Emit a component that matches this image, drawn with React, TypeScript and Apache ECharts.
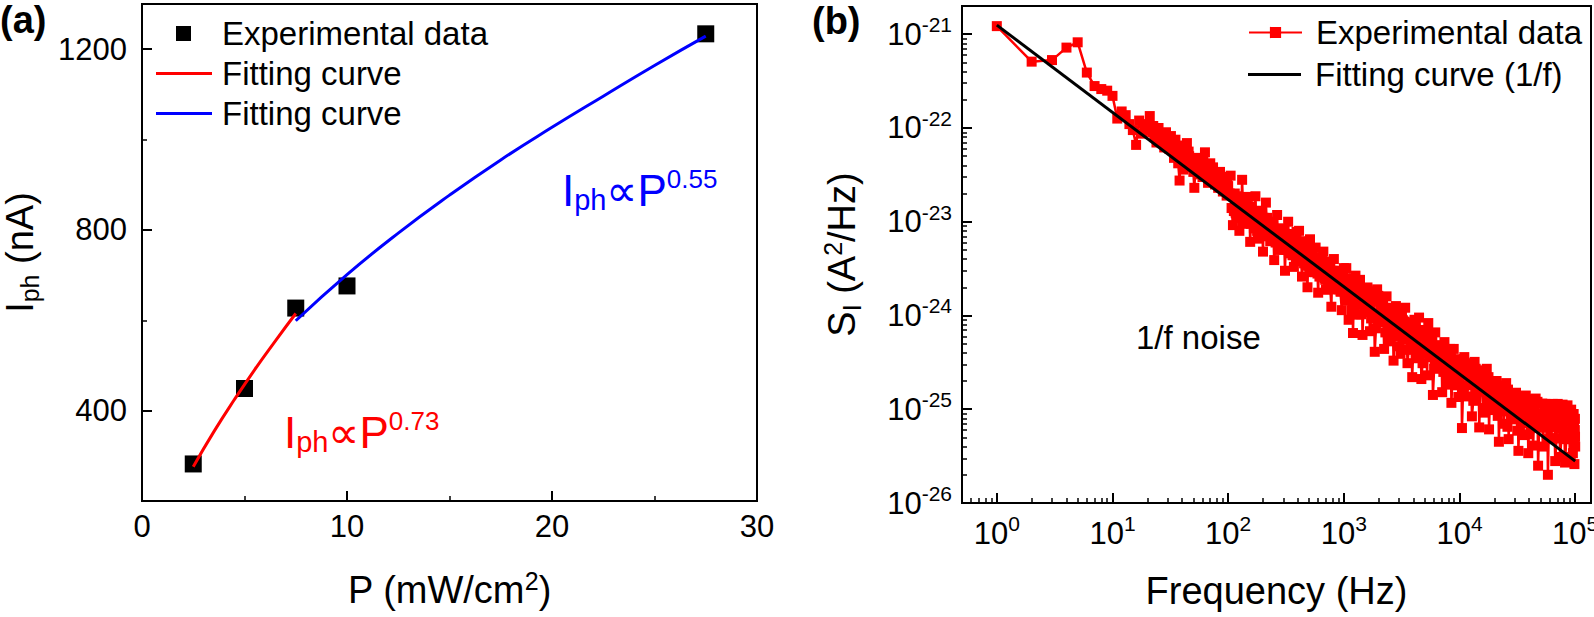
import React, { useEffect, useRef } from "react";
import * as echarts from "echarts";

const FONT = "'Liberation Sans', Arial, Helvetica, sans-serif";

// ---------------- Panel (a) ----------------
const powerP = [2.5, 5, 7.5, 10, 27.5];
const photocurrent = [282, 449, 627, 676, 1234];
const fitLowP = [2.5, 3.5, 4.5, 5.5, 6.5, 7.5];
const fitLowI = [276, 353, 424, 491, 554, 615];
const fitHighP = [7.5, 10, 12.5, 15, 17.5, 20, 22.5, 25, 27.5];
const fitHighI = [599, 701, 793, 877, 955, 1027, 1096, 1164, 1229];
const yTicksA = [400, 800, 1200];
const yMinorTicksA = [600, 1000];

// ---------------- Panel (b): noise spectrum, S_I in A^2/Hz ----------------
const freqDec0 = [1, 2, 3, 4, 5, 6, 7, 8, 9, 10];
const psdDec0 = [1.22e-21, 5.1e-22, 5.3e-22, 7.2e-22, 8.2e-22, 3.9e-22, 2.8e-22, 2.6e-22, 2.5e-22, 2.2e-22];

const freqDec1 = [
  11, 12, 13, 14, 15, 16, 17, 18, 19, 20, 21, 22, 23, 24, 25, 26, 27, 28, 29, 30,
  31, 32, 33, 34, 35, 36, 37, 38, 39, 40, 41, 42, 43, 44, 45, 46, 47, 49, 51, 52,
  54, 56, 58, 60, 61, 63, 65, 67, 70, 72, 74, 77, 80, 82, 85, 88, 90, 92, 95, 97, 100,
];
const psdDec1 = [
  1.26e-22, 1.5e-22, 1.37e-22, 1.1e-22, 9.5e-23, 6.6e-23, 1.2e-22, 8.7e-23, 1.0e-22, 1.1e-22,
  1.34e-22, 9.0e-23, 8.0e-23, 7.0e-23, 1.0e-22, 8.5e-23, 7.4e-23, 6.2e-23, 9.0e-23, 7.0e-23,
  6.0e-23, 8.2e-23, 5.8e-23, 4.8e-23, 7.5e-23, 6.0e-23, 4.2e-23, 2.75e-23, 5.2e-23, 6.5e-23,
  3.6e-23, 4.5e-23, 5.6e-23, 6.9e-23, 4.0e-23, 5.0e-23, 3.8e-23, 4.4e-23, 2.3e-23, 3.6e-23,
  4.8e-23, 4.0e-23, 3.2e-23, 3.0e-23, 4.4e-23, 5.5e-23, 3.6e-23, 2.6e-23, 4.2e-23, 3.0e-23,
  3.8e-23, 2.5e-23, 2.9e-23, 2.3e-23, 3.4e-23, 2.8e-23, 2.1e-23, 2.6e-23, 3.0e-23, 1.9e-23, 2.4e-23,
];
const freqDec1b = [
  20.5, 22.5, 24.5, 27.5, 30.5, 33.5, 36.5, 39.5, 42.5, 45.5, 48, 50, 53, 55, 57, 59, 62, 64, 66, 68,
  69, 71, 73, 75, 76, 78, 79, 81, 83, 84, 86, 87, 89, 91, 93, 94, 96, 98, 99,
];
const psdDec1b = [
  9.5e-23, 1.05e-22, 8.2e-23, 8.8e-23, 6.4e-23, 6.8e-23, 5.2e-23, 4.6e-23, 5.2e-23, 5.6e-23,
  4.0e-23, 3.4e-23, 4.2e-23, 3.6e-23, 4.6e-23, 3.8e-23, 3.4e-23, 4.0e-23, 3.2e-23, 3.6e-23,
  3.0e-23, 3.5e-23, 2.8e-23, 3.2e-23, 2.8e-23, 3.3e-23, 2.6e-23, 3.0e-23, 2.7e-23, 2.4e-23,
  2.9e-23, 2.3e-23, 2.6e-23, 2.9e-23, 2.2e-23, 2.7e-23, 2.4e-23, 2.6e-23, 2.2e-23,
];

const freqDec2 = [
  105, 107, 110, 114, 118, 121, 125, 128, 132, 136, 140, 144, 148, 151, 155, 159, 163, 167, 172, 176,
  180, 185, 190, 195, 200, 206, 212, 218, 225, 231, 238, 244, 250, 257, 265, 272, 280, 287, 295, 302,
  310, 320, 330, 340, 350, 360, 370, 380, 390, 400, 410, 422, 435, 447, 460, 472, 485, 497, 510, 525,
  540, 555, 570, 585, 600, 615, 630, 647, 665, 682, 700, 720, 740, 760, 780, 800, 820, 842, 865, 887,
  910, 935, 960, 980, 1000,
];
const psdDec2 = [
  3.1e-23, 1.4e-23, 9.2e-24, 2.0e-23, 1.87e-23, 1.1e-23, 8.0e-24, 1.6e-23, 2.8e-23, 9.5e-24,
  1.0e-23, 1.5e-23, 1.84e-23, 1.0e-23, 6.1e-24, 1.45e-23, 1.16e-23, 8.5e-24, 1.87e-23, 1.3e-23,
  6.6e-24, 8.8e-24, 1.31e-23, 1.2e-23, 4.8e-24, 7.0e-24, 1.6e-23, 1.1e-23, 7.3e-24, 6.2e-24,
  9.0e-24, 1.0e-23, 3.9e-24, 6.0e-24, 1.18e-23, 8.5e-24, 5.0e-24, 6.0e-24, 8.4e-24, 8.0e-24,
  3.0e-24, 5.0e-24, 1.0e-23, 7.4e-24, 5.2e-24, 4.4e-24, 3.3e-24, 6.5e-24, 7.8e-24, 4.0e-24,
  8.0e-24, 6.2e-24, 2.6e-24, 3.8e-24, 5.4e-24, 5.6e-24, 2.0e-24, 3.4e-24, 6.5e-24, 4.4e-24,
  2.9e-24, 3.2e-24, 5.3e-24, 4.2e-24, 1.75e-24, 2.6e-24, 3.35e-24, 3.9e-24, 4.8e-24, 2.5e-24,
  1.88e-24, 3.2e-24, 3.76e-24, 2.2e-24, 1.24e-24, 3.0e-24, 4.0e-24, 1.9e-24, 2.1e-24, 3.0e-24,
  2.6e-24, 1.8e-24, 1.14e-24, 2.6e-24, 3.2e-24,
];
const freqDec2b = [
  103, 112, 116, 123, 130, 134, 138, 142, 146, 153, 157, 161, 165, 170, 174, 178, 183, 188, 193, 198,
  203, 209, 215, 221, 228, 234, 241, 247, 254, 261, 268, 276, 284, 291, 298, 306, 315, 325, 335, 345,
  355, 365, 375, 385, 395, 405, 416, 428, 441, 453, 466, 478, 491, 503, 517, 532, 547, 562, 577, 592,
  607, 622, 638, 656, 673, 691, 710, 730, 750, 770, 790, 810, 831, 853, 876, 898, 922, 947, 970, 990,
];
const psdDec2b = [
  2.0e-23, 1.3e-23, 1.25e-23, 1.6e-23, 1.2e-23, 1.5e-23, 1.15e-23, 1.25e-23, 1.1e-23, 1.3e-23,
  9.5e-24, 1.05e-23, 1.25e-23, 9.0e-24, 1.1e-23, 8.0e-24, 1.2e-23, 8.5e-24, 1.0e-23, 8.0e-24,
  1.1e-23, 8.6e-24, 1.0e-23, 7.6e-24, 9.2e-24, 7.0e-24, 8.4e-24, 6.8e-24, 8.0e-24, 6.4e-24,
  7.6e-24, 6.0e-24, 7.2e-24, 5.6e-24, 6.8e-24, 5.4e-24, 6.4e-24, 5.0e-24, 6.0e-24, 4.6e-24,
  5.8e-24, 4.4e-24, 5.4e-24, 4.2e-24, 5.2e-24, 4.0e-24, 5.0e-24, 3.8e-24, 4.6e-24, 3.6e-24,
  4.4e-24, 3.4e-24, 4.2e-24, 3.2e-24, 4.0e-24, 3.1e-24, 3.7e-24, 2.9e-24, 3.6e-24, 2.8e-24,
  3.3e-24, 2.7e-24, 3.2e-24, 2.6e-24, 3.0e-24, 2.4e-24, 2.8e-24, 2.3e-24, 2.7e-24, 2.2e-24,
  2.5e-24, 2.1e-24, 2.4e-24, 2.0e-24, 2.3e-24, 1.9e-24, 2.2e-24, 1.8e-24, 2.1e-24, 1.9e-24,
];

const freqDec3 = [
  1025, 1050, 1075, 1100, 1125, 1150, 1175, 1200, 1230, 1260, 1290, 1320, 1350, 1380, 1415, 1450,
  1485, 1520, 1560, 1600, 1640, 1680, 1720, 1760, 1805, 1850, 1895, 1940, 1985, 2030, 2080, 2130,
  2180, 2230, 2285, 2340, 2395, 2450, 2510, 2570, 2630, 2690, 2755, 2820, 2885, 2950, 3020, 3090,
  3165, 3240, 3315, 3390, 3470, 3550, 3635, 3720, 3810, 3900, 3990, 4080, 4175, 4270, 4370, 4470,
  4575, 4680, 4790, 4900, 5015, 5130, 5250, 5370, 5495, 5620, 5755, 5890, 6030, 6170, 6315, 6460,
  6610, 6760, 6920, 7080, 7245, 7410, 7585, 7760, 7945, 8130, 8320, 8510, 8710, 8910, 9120, 9330,
  9550, 9770, 9885, 10000,
];
const psdDec3 = [
  2.5e-24, 3.2e-24, 1.44e-24, 9.0e-25, 2.17e-24, 2.12e-24, 1.13e-24, 6.5e-25, 2.5e-24, 2.66e-24,
  1.38e-24, 1.02e-24, 2.0e-24, 2.4e-24, 1.03e-24, 6.2e-25, 1.52e-24, 1.34e-24, 1.09e-24, 1.99e-24,
  1.81e-24, 6.8e-25, 9.3e-25, 1.56e-24, 1.4e-24, 4.1e-25, 7.3e-25, 1.9e-24, 1.62e-24, 8.6e-25,
  8.9e-25, 1.09e-24, 1.28e-24, 4.4e-25, 6.6e-25, 1.6e-24, 9.8e-25, 5.3e-25, 7.1e-25, 1.2e-24,
  1.17e-24, 3.3e-25, 6.0e-25, 1.26e-24, 9.1e-25, 6.5e-25, 4.7e-25, 3.9e-25, 1.06e-24, 8.9e-25,
  5.8e-25, 1.21e-24, 8.4e-25, 3.1e-25, 4.3e-25, 7.2e-25, 6.4e-25, 2.2e-25, 4.6e-25, 9.0e-25,
  7.6e-25, 3.5e-25, 3.9e-25, 9.5e-25, 6.0e-25, 2.1e-25, 3.1e-25, 4.6e-25, 7.0e-25, 6.8e-25,
  2.3e-25, 8.3e-25, 3.6e-25, 5.4e-25, 5.3e-25, 1.42e-25, 2.7e-25, 6.6e-25, 4.0e-25, 2.96e-25,
  2.9e-25, 3.8e-25, 4.8e-25, 1.52e-25, 2.5e-25, 5.2e-25, 3.7e-25, 1.83e-25, 2.0e-25, 4.2e-25,
  4.4e-25, 1.17e-25, 2.4e-25, 4.4e-25, 3.4e-25, 2.24e-25, 1.8e-25, 1.35e-25, 2.7e-25, 3.2e-25,
];
const freqDec3b = [
  1040, 1090, 1140, 1190, 1245, 1305, 1365, 1435, 1500, 1580, 1660, 1740, 1830, 1920, 2010, 2105,
  2205, 2310, 2420, 2540, 2660, 2790, 2920, 3060, 3200, 3350, 3510, 3680, 3855, 4035, 4220, 4420,
  4625, 4845, 5070, 5310, 5560, 5820, 6100, 6390, 6685, 7000, 7330, 7670, 8040, 8420, 8810, 9230, 9660,
];
const psdDec3b = [
  1.7e-24, 2.4e-24, 1.56e-24, 2.2e-24, 1.43e-24, 2.05e-24, 1.31e-24, 1.88e-24, 1.21e-24, 1.73e-24,
  1.1e-24, 1.57e-24, 1.0e-24, 1.44e-24, 9.2e-25, 1.32e-24, 8.5e-25, 1.21e-24, 7.8e-25, 1.12e-24,
  7.1e-25, 1.02e-24, 6.6e-25, 9.4e-25, 6.0e-25, 8.6e-25, 5.5e-25, 7.9e-25, 5.0e-25, 7.3e-25,
  4.6e-25, 6.7e-25, 4.3e-25, 6.2e-25, 3.9e-25, 5.6e-25, 3.6e-25, 5.2e-25, 3.3e-25, 4.8e-25,
  3.1e-25, 4.4e-25, 2.8e-25, 4.0e-25, 2.6e-25, 3.7e-25, 2.4e-25, 3.4e-25, 2.2e-25,
];

const freqDec4 = [
  10250, 10500, 10750, 11000, 11300, 11600, 11900, 12200, 12500, 12800, 13150, 13500, 13800, 14100,
  14450, 14800, 15200, 15600, 16000, 16400, 16800, 17200, 17600, 18000, 18450, 18900, 19400, 19900,
  20400, 20900, 21400, 21900, 22450, 23000, 23550, 24100, 24700, 25300, 25950, 26600, 27250, 27900,
  28600, 29300, 30050, 30800, 31550, 32300, 33100, 33900, 34750, 35600, 36500, 37400, 38350, 39300,
  40300, 41300, 42300, 43300, 44400, 45500, 46650, 47800, 49000, 50200, 51450, 52700, 54000, 55300,
  56700, 58100, 59550, 61000, 62500, 64000, 65600, 67200, 68900, 70600, 72350, 74100, 75950, 77800,
  79750, 81700, 83750, 85800, 87950, 90100, 91500, 93000, 94200, 95500, 96200, 97000, 97700, 98500,
  98900, 99300, 99700, 100000,
];
const psdDec4 = [
  2.3e-25, 6.3e-26, 1.7e-25, 3.6e-25, 3.0e-25, 1.37e-25, 1.8e-25, 2.6e-25, 2.35e-25, 8.4e-26,
  1.23e-25, 3.2e-25, 2.7e-25, 1.54e-25, 1.68e-25, 6.4e-26, 1.97e-25, 2.3e-25, 1.03e-25, 9.2e-26,
  1.96e-25, 2.7e-25, 1.17e-25, 6.1e-26, 1.94e-25, 1.6e-25, 1.14e-25, 9.8e-26, 1.43e-25, 2.0e-25,
  8.5e-26, 4.5e-26, 1.63e-25, 1.6e-25, 9.5e-26, 7.0e-26, 1.25e-25, 1.9e-25, 6.5e-26, 4.8e-26,
  1.46e-25, 1.22e-25, 8.5e-26, 7.8e-26, 1.05e-25, 1.5e-25, 5.9e-26, 3.6e-26, 1.14e-25, 1.2e-25,
  7.1e-26, 5.3e-26, 8.8e-26, 1.4e-25, 5.4e-26, 3.4e-26, 1.1e-25, 8.6e-26, 6.3e-26, 4.1e-26,
  1.07e-25, 1.3e-25, 6.4e-26, 2.5e-26, 8.5e-26, 9.0e-26, 6.4e-26, 4.0e-26, 9.5e-26, 1.14e-25,
  4.8e-26, 2.0e-26, 9.2e-26, 6.5e-26, 4.9e-26, 1.14e-25, 8.9e-26, 2.8e-26, 4.9e-26, 1.14e-25,
  8.5e-26, 3.1e-26, 4.9e-26, 1.12e-25, 8.6e-26, 2.7e-26, 4.8e-26, 1.1e-25, 8.2e-26, 3.1e-26,
  4.8e-26, 8.0e-26, 6.4e-26, 3.4e-26, 4.9e-26, 8.9e-26, 7.1e-26, 2.6e-26, 4.1e-26, 6.0e-26,
  5.1e-26, 4.0e-26,
];
const freqDec4b = [
  10400, 10900, 11450, 12050, 12650, 13300, 13950, 14650, 15400, 16200, 17000, 17800, 18650, 19650,
  20650, 21650, 22700, 23800, 25000, 26250, 27550, 28950, 30400, 31900, 33500, 35200, 36950, 38850,
  40800, 42800, 44950, 47200, 49600, 52050, 54650, 57400, 60300, 63200, 66400, 69750, 73200, 76850,
  80700, 84750, 88950, 92300, 96600, 99500,
];
const psdDec4b = [
  2.5e-25, 3.4e-25, 2.3e-25, 3.1e-25, 2.1e-25, 2.8e-25, 1.94e-25, 2.6e-25, 1.77e-25, 2.4e-25,
  1.62e-25, 2.2e-25, 1.48e-25, 2.0e-25, 1.35e-25, 1.8e-25, 1.23e-25, 1.65e-25, 1.13e-25, 1.62e-25,
  1.03e-25, 1.49e-25, 9.5e-26, 1.36e-25, 9.5e-26, 1.32e-25, 8.7e-26, 1.28e-25, 7.9e-26, 1.24e-25,
  7.9e-26, 1.2e-25, 7.2e-26, 1.15e-25, 7.2e-26, 1.1e-25, 6.5e-26, 1.1e-25, 6.5e-26, 1.06e-25,
  6.3e-26, 1.05e-25, 5.8e-26, 1.03e-25, 5.6e-26, 9.9e-26, 5.9e-26, 7.9e-26,
];

const fitFrequency = [1, 100000];
const fitPSD = [1.25e-21, 2.8e-26];
const xDecadesB = [1, 10, 100, 1000, 10000, 100000];
const yDecadesB = [1e-26, 1e-25, 1e-24, 1e-23, 1e-22, 1e-21];
const yRangeB = [1e-26, 2e-21];
const xRangeB = [0.5, 137000];
const minorMultipliers = [2, 3, 4, 5, 6, 7, 8, 9];

// The y log axis works in multiples of 1e-26 A^2/Hz (labels show the real powers of ten).
const PSD_UNIT = 1e-26;
const UNIT_EXP = -26;

const frequency = [
  ...freqDec0, ...freqDec1, ...freqDec1b, ...freqDec2, ...freqDec2b,
  ...freqDec3, ...freqDec3b, ...freqDec4, ...freqDec4b,
];
const noisePSD = [
  ...psdDec0, ...psdDec1, ...psdDec1b, ...psdDec2, ...psdDec2b,
  ...psdDec3, ...psdDec3b, ...psdDec4, ...psdDec4b,
];

const xMinorB = [0.6, 0.7, 0.8, 0.9].concat(
  xDecadesB.slice(0, 5).flatMap((d) => minorMultipliers.map((m) => m * d))
);
const yMinorB = yDecadesB
  .slice(0, 5)
  .flatMap((d) => minorMultipliers.map((m) => (m * d) / PSD_UNIT));

const legendText: Record<string, string> = {
  aExp: "Experimental data",
  aFitLow: "Fitting curve",
  aFitHigh: "Fitting curve",
  bExp: "Experimental data",
  bFit: "Fitting curve (1/f)",
};

const BLACK = "#000000";
const RED = "#ff0000";
const BLUE = "#0000ff";

const tickRich = {
  b: { fontSize: 31, fontFamily: FONT, color: BLACK, lineHeight: 40 },
  s: { fontSize: 21, fontFamily: FONT, color: BLACK, verticalAlign: "top", lineHeight: 21 },
};
const nameRich = {
  b: { fontSize: 38, fontFamily: FONT, color: BLACK, lineHeight: 44 },
  sub: { fontSize: 25, fontFamily: FONT, color: BLACK, verticalAlign: "bottom", lineHeight: 22 },
  sup: { fontSize: 25, fontFamily: FONT, color: BLACK, verticalAlign: "top", lineHeight: 30 },
};
const annRich = (color: string) => ({
  b: { fontSize: 44, fontFamily: FONT, fill: color, lineHeight: 48 },
  sub: { fontSize: 29, fontFamily: FONT, fill: color, verticalAlign: "bottom", lineHeight: 24 },
  sup: { fontSize: 26, fontFamily: FONT, fill: color, verticalAlign: "top", lineHeight: 38 },
});

const axisLine = { show: true, lineStyle: { color: BLACK, width: 2 } };
const majorTick = (custom?: number[]) => ({
  show: true,
  inside: true,
  length: 10,
  lineStyle: { color: BLACK, width: 2 },
  ...(custom ? { customValues: custom } : {}),
});
const minorTickAxis = (custom: number[]) => ({
  show: true,
  inside: true,
  length: 5,
  customValues: custom,
  lineStyle: { color: BLACK, width: 1.5 },
});

const xExpFormatter = (v: number) => `{b|10}{s|${Math.round(Math.log10(v))}}`;
const yExpFormatter = (v: number) => `{b|10}{s|${Math.round(Math.log10(v)) + UNIT_EXP}}`;

const legendBase = {
  orient: "vertical",
  padding: 0,
  formatter: (name: string) => legendText[name] ?? name,
  textStyle: { fontSize: 33, fontFamily: FONT, color: BLACK, lineHeight: 33, padding: [0, 0, 0, 5] },
  selectedMode: false,
};

function buildOption(): any {
  const spectrum = frequency
    .map((f, i) => [f, noisePSD[i] / PSD_UNIT])
    .sort((p, q) => p[0] - q[0]);
  return {
    animation: false,
    backgroundColor: "#ffffff",
    textStyle: { fontFamily: FONT },
    grid: [
      {
        left: 142, top: 4, width: 615, height: 497,
        show: true, borderColor: BLACK, borderWidth: 2, backgroundColor: "transparent",
        containLabel: false, outerBoundsMode: "none",
      },
      {
        left: 962, top: 6, width: 629, height: 497,
        show: true, borderColor: BLACK, borderWidth: 2, backgroundColor: "transparent",
        containLabel: false, outerBoundsMode: "none",
      },
    ],
    xAxis: [
      {
        gridIndex: 0, type: "value", min: 0, max: 30, interval: 10, position: "bottom",
        axisLine, axisTick: majorTick(),
        minorTick: { show: true, splitNumber: 2, length: 5, lineStyle: { color: BLACK, width: 1.5 } },
        splitLine: { show: false }, minorSplitLine: { show: false },
        axisLabel: { fontSize: 31, fontFamily: FONT, color: BLACK, margin: 10 },
        name: "{b|P (mW/cm}{sup|2}{b|)}",
        nameLocation: "middle", nameGap: 67, nameMoveOverlap: false,
        nameTextStyle: { rich: nameRich },
      },
      {
        gridIndex: 1, type: "log", min: xRangeB[0], max: xRangeB[1], position: "bottom",
        axisLine, axisTick: majorTick(xDecadesB),
        splitLine: { show: false }, minorTick: { show: false },
        axisLabel: { customValues: xDecadesB, formatter: xExpFormatter, rich: tickRich, margin: 10 },
        name: "Frequency (Hz)",
        nameLocation: "middle", nameGap: 69, nameMoveOverlap: false,
        nameTextStyle: { fontSize: 38, fontFamily: FONT, color: BLACK },
      },
      {
        gridIndex: 1, type: "log", min: xRangeB[0], max: xRangeB[1], position: "bottom",
        axisLine: { show: false }, axisTick: minorTickAxis(xMinorB),
        axisLabel: { show: false }, splitLine: { show: false },
      },
    ],
    yAxis: [
      {
        gridIndex: 0, type: "value", min: 200, max: 1300, position: "left",
        axisLine, axisTick: majorTick(yTicksA),
        splitLine: { show: false },
        axisLabel: {
          customValues: yTicksA, fontSize: 31, fontFamily: FONT, color: BLACK, margin: 15,
          formatter: (v: number) => String(v),
        },
        name: "{b|I}{sub|ph}{b| (nA)}",
        nameLocation: "middle", nameRotate: 90, nameGap: 100, nameMoveOverlap: false,
        nameTextStyle: { rich: nameRich },
      },
      {
        gridIndex: 0, type: "value", min: 200, max: 1300, position: "left",
        axisLine: { show: false }, axisTick: minorTickAxis(yMinorTicksA),
        axisLabel: { show: false }, splitLine: { show: false },
      },
      {
        gridIndex: 1, type: "log", min: yRangeB[0] / PSD_UNIT, max: yRangeB[1] / PSD_UNIT, position: "left",
        axisLine, axisTick: majorTick(yDecadesB.map((d) => d / PSD_UNIT)),
        splitLine: { show: false }, minorTick: { show: false },
        axisLabel: {
          customValues: yDecadesB.map((d) => d / PSD_UNIT),
          formatter: yExpFormatter, rich: tickRich, margin: 10,
        },
        name: "{b|S}{sub|I}{b| (A}{sup|2}{b|/Hz)}",
        nameLocation: "middle", nameRotate: 90, nameGap: 98, nameMoveOverlap: false,
        nameTextStyle: { rich: nameRich },
      },
      {
        gridIndex: 1, type: "log", min: yRangeB[0] / PSD_UNIT, max: yRangeB[1] / PSD_UNIT, position: "left",
        axisLine: { show: false }, axisTick: minorTickAxis(yMinorB),
        axisLabel: { show: false }, splitLine: { show: false },
      },
    ],
    legend: [
      {
        ...legendBase, left: 176, top: 17, itemWidth: 15, itemHeight: 15,
        textStyle: { ...legendBase.textStyle, padding: [0, 0, 0, 26] },
        data: [{ name: "aExp", icon: "rect" }],
      },
      {
        ...legendBase, left: 156, top: 57, itemWidth: 56, itemHeight: 3, symbolKeepAspect: false,
        data: [{ name: "aFitLow", icon: "rect" }],
      },
      {
        ...legendBase, left: 156, top: 97, itemWidth: 56, itemHeight: 3, symbolKeepAspect: false,
        data: [{ name: "aFitHigh", icon: "rect" }],
      },
      {
        ...legendBase, left: 1248, top: 16, itemWidth: 53, itemHeight: 14,
        textStyle: { ...legendBase.textStyle, padding: [0, 0, 0, 9] },
        data: [{ name: "bExp" }],
      },
      {
        ...legendBase, left: 1248, top: 58, itemWidth: 53, itemHeight: 3, symbolKeepAspect: false,
        textStyle: { ...legendBase.textStyle, padding: [0, 0, 0, 9] },
        data: [{ name: "bFit", icon: "rect" }],
      },
    ],
    graphic: [
      {
        type: "text", x: 0, y: 1,
        style: { text: "(a)", fontSize: 38, fontWeight: "bold", fontFamily: FONT, fill: BLACK },
      },
      {
        type: "text", x: 812, y: 2,
        style: { text: "(b)", fontSize: 38, fontWeight: "bold", fontFamily: FONT, fill: BLACK },
      },
      {
        type: "text", x: 562, y: 166,
        style: { text: "{b|I}{sub|ph}{b|\u221dP}{sup|0.55}", rich: annRich(BLUE), fill: BLUE },
      },
      {
        type: "text", x: 284, y: 408,
        style: { text: "{b|I}{sub|ph}{b|\u221dP}{sup|0.73}", rich: annRich(RED), fill: RED },
      },
      {
        type: "text", x: 1136, y: 321,
        style: { text: "1/f noise", fontSize: 33, fontFamily: FONT, fill: BLACK },
      },
    ],
    series: [
      {
        name: "aExp", type: "scatter", xAxisIndex: 0, yAxisIndex: 0, z: 2,
        data: powerP.map((p, i) => [p, photocurrent[i]]),
        symbol: "rect", symbolSize: 17, itemStyle: { color: BLACK, opacity: 1 },
      },
      {
        name: "aFitLow", type: "line", xAxisIndex: 0, yAxisIndex: 0, z: 4,
        data: fitLowP.map((p, i) => [p, fitLowI[i]]),
        smooth: true, symbol: "none", lineStyle: { color: RED, width: 3 }, itemStyle: { color: RED },
      },
      {
        name: "aFitHigh", type: "line", xAxisIndex: 0, yAxisIndex: 0, z: 4,
        data: fitHighP.map((p, i) => [p, fitHighI[i]]),
        smooth: true, symbol: "none", lineStyle: { color: BLUE, width: 3 }, itemStyle: { color: BLUE },
      },
      {
        name: "bExp", type: "line", xAxisIndex: 1, yAxisIndex: 2, z: 2,
        data: spectrum,
        symbol: "rect", symbolSize: 10, showSymbol: true,
        lineStyle: { color: RED, width: 2.5 }, itemStyle: { color: RED, opacity: 1 },
      },
      {
        name: "bFit", type: "line", xAxisIndex: 1, yAxisIndex: 2, z: 5,
        data: fitFrequency.map((f, i) => [f, fitPSD[i] / PSD_UNIT]),
        symbol: "none", lineStyle: { color: BLACK, width: 3 }, itemStyle: { color: BLACK },
      },
    ],
  };
}

export default function App() {
  const ref = useRef<HTMLDivElement>(null);
  useEffect(() => {
    document.body.style.margin = "0";
    const chart = echarts.init(ref.current as HTMLDivElement, null, { renderer: "svg" });
    chart.setOption(buildOption());
    return () => chart.dispose();
  }, []);
  return (
    <div
      ref={ref}
      style={{ position: "absolute", left: 0, top: 0, width: 1594, height: 617, background: "#ffffff" }}
    />
  );
}
